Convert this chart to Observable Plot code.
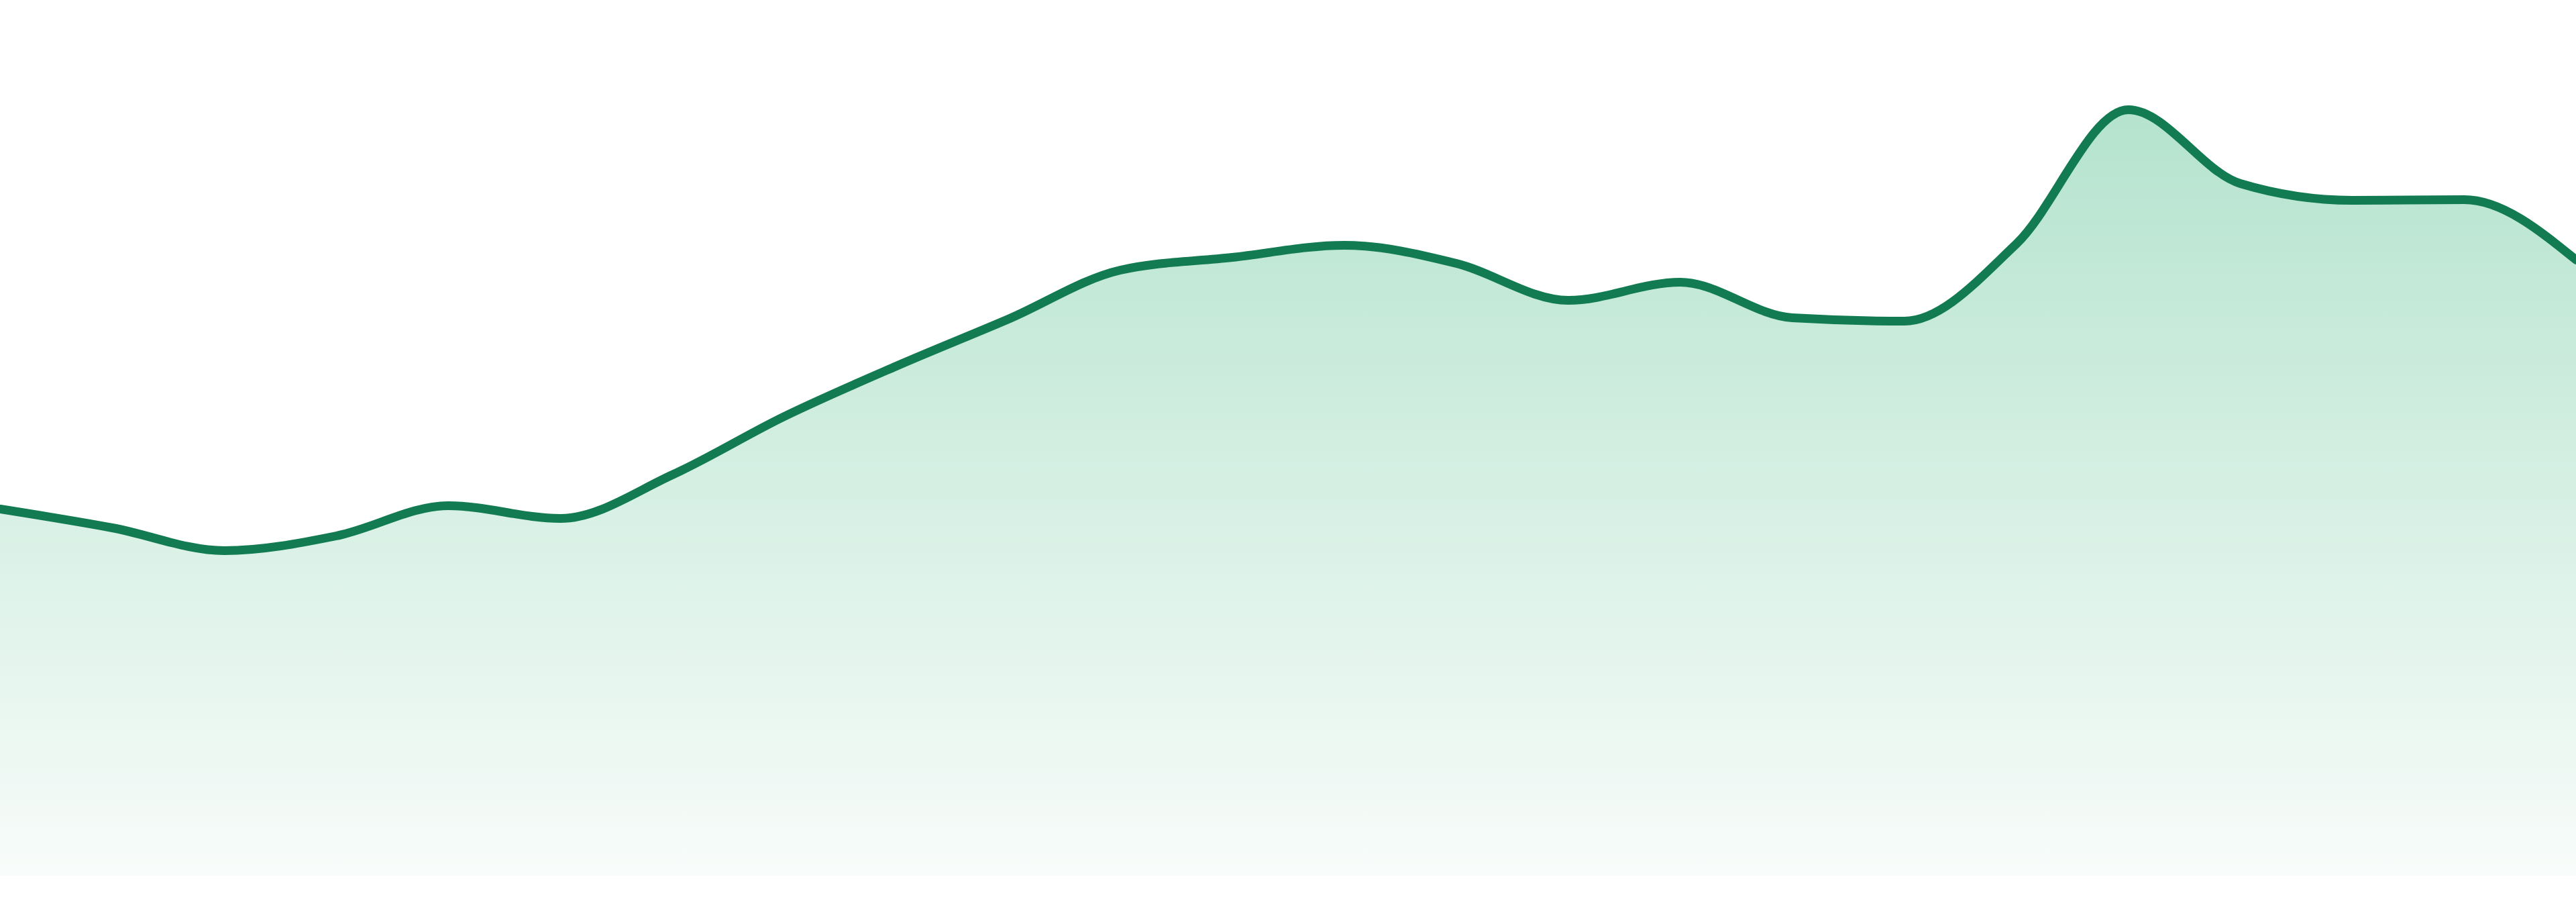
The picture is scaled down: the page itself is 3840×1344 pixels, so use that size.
<!DOCTYPE html>
<html>
<head>
<meta charset="utf-8">
<script src="https://cdn.jsdelivr.net/npm/d3@7"></script>
<script src="https://cdn.jsdelivr.net/npm/@observablehq/plot@0.6"></script>
<style>
  html, body { margin: 0; padding: 0; background: #ffffff; overflow: hidden; }
  #chart svg { display: block; }
</style>
</head>
<body>
<div id="chart"></div>
<script>
// Data (index of each sample, value)
const indices = [0,1,2,3,4,5,6,7,8,9,10,11,12,13,14,15,16,17,18,19,20,21,22,23];
const values  = [547,519,485,507,552,533,598,685,760,830,903,922,940,913,858,885,832,827,942,1142,1032,1007,1008,918];

const data = indices.map((i, k) => ({x: i, y: values[k]}));

const lineColor = "#127b51";

function gradientDefs() {
  const ns = "http://www.w3.org/2000/svg";
  const defs = document.createElementNS(ns, "defs");
  const lg = document.createElementNS(ns, "linearGradient");
  lg.setAttribute("id", "areaGrad");
  lg.setAttribute("x1", "0"); lg.setAttribute("y1", "0");
  lg.setAttribute("x2", "0"); lg.setAttribute("y2", "1");
  const s1 = document.createElementNS(ns, "stop");
  s1.setAttribute("offset", "0%"); s1.setAttribute("stop-color", "rgb(180,227,206)");
  const s2 = document.createElementNS(ns, "stop");
  s2.setAttribute("offset", "100%"); s2.setAttribute("stop-color", "rgb(248,252,250)");
  lg.appendChild(s1); lg.appendChild(s2);
  defs.appendChild(lg);
  return defs;
}

const chart = Plot.plot({
  width: 3840,
  height: 1344,
  marginTop: 0,
  marginRight: 0,
  marginBottom: 39,
  marginLeft: 0,
  x: {domain: [0, 23], axis: null},
  y: {domain: [0, 1305], axis: null},
  marks: [
    gradientDefs,
    Plot.areaY(data, {x: "x", y: "y", curve: "monotone-x", fill: "url(#areaGrad)"}),
    Plot.lineY(data, {x: "x", y: "y", curve: "monotone-x", stroke: lineColor, strokeWidth: 13})
  ]
});
document.getElementById("chart").appendChild(chart);
</script>
</body>
</html>
